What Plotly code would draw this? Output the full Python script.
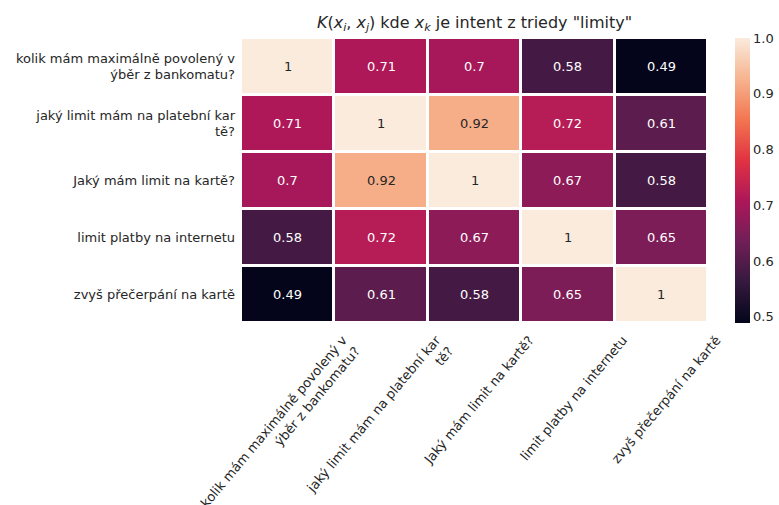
import plotly.graph_objects as go

labels = [
    "kolik mám maximálně povolený v<br>ýběr z bankomatu?",
    "jaký limit mám na platební kar<br>tě?",
    "Jaký mám limit na kartě?",
    "limit platby na internetu",
    "zvyš přečerpání na kartě",
]
similarity = [
    [1.00, 0.71, 0.70, 0.58, 0.49],
    [0.71, 1.00, 0.92, 0.72, 0.61],
    [0.70, 0.92, 1.00, 0.67, 0.58],
    [0.58, 0.72, 0.67, 1.00, 0.65],
    [0.49, 0.61, 0.58, 0.65, 1.00],
]
cbar_ticks = [0.5, 0.6, 0.7, 0.8, 0.9, 1.0]

# seaborn "rocket" colormap
rocket = [
    [0.0, "#03051a"],
    [1 / 7, "#35193e"],
    [2 / 7, "#701f57"],
    [3 / 7, "#ad1759"],
    [4 / 7, "#e13342"],
    [5 / 7, "#f37651"],
    [6 / 7, "#f6b48f"],
    [1.0, "#faebdd"],
]

font = "DejaVu Sans"
ink = "#262626"
idx = list(range(len(labels)))

fig = go.Figure(
    go.Heatmap(
        z=similarity,
        x=idx,
        y=idx,
        colorscale=rocket,
        zmin=0.489,
        zmax=1.0,
        xgap=3,
        ygap=3,
        colorbar=dict(
            thickness=15,
            len=1.0,
            lenmode="fraction",
            x=1.057,
            xanchor="left",
            xpad=0,
            y=0.5,
            yanchor="middle",
            ypad=0,
            outlinewidth=0,
            tickvals=cbar_ticks,
            ticktext=[f"{t:.1f}" for t in cbar_ticks],
            tickfont=dict(family=font, size=13, color=ink),
            ticks="",
        ),
        hoverinfo="skip",
    )
)

# value labels in each cell: dark on light cells, white on dark ones
for i, row in enumerate(similarity):
    for j, v in enumerate(row):
        fig.add_annotation(
            x=j,
            y=i,
            text=f"{v:g}",
            showarrow=False,
            font=dict(family=font, size=13, color=ink if v > 0.85 else "white"),
        )

fig.update_layout(
    width=779,
    height=505,
    margin=dict(l=241, r=71, t=38, b=182, autoexpand=False),
    paper_bgcolor="white",
    plot_bgcolor="white",
    title=dict(
        text='<i>K</i>(<i>x<sub>i</sub></i>, <i>x<sub>j</sub></i>) kde <i>x<sub>k</sub></i> je intent z triedy "limity"',
        x=474.5 / 779,
        xanchor="center",
        y=1 - 22 / 505,
        yanchor="middle",
        font=dict(family=font, size=16, color=ink),
    ),
    xaxis=dict(
        tickvals=idx,
        ticktext=labels,
        tickangle=-50,
        ticklabelshift=55,
        ticklabelstandoff=6,
        tickfont=dict(family=font, size=13, color=ink),
        showgrid=False,
        zeroline=False,
        showline=False,
        ticks="",
        range=[-0.5, 4.5],
        automargin=False,
    ),
    yaxis=dict(
        tickvals=idx,
        ticktext=labels,
        ticklabelstandoff=5,
        tickfont=dict(family=font, size=13, color=ink),
        showgrid=False,
        zeroline=False,
        showline=False,
        ticks="",
        range=[4.5, -0.5],
        automargin=False,
    ),
)

fig.write_html("out.html")
